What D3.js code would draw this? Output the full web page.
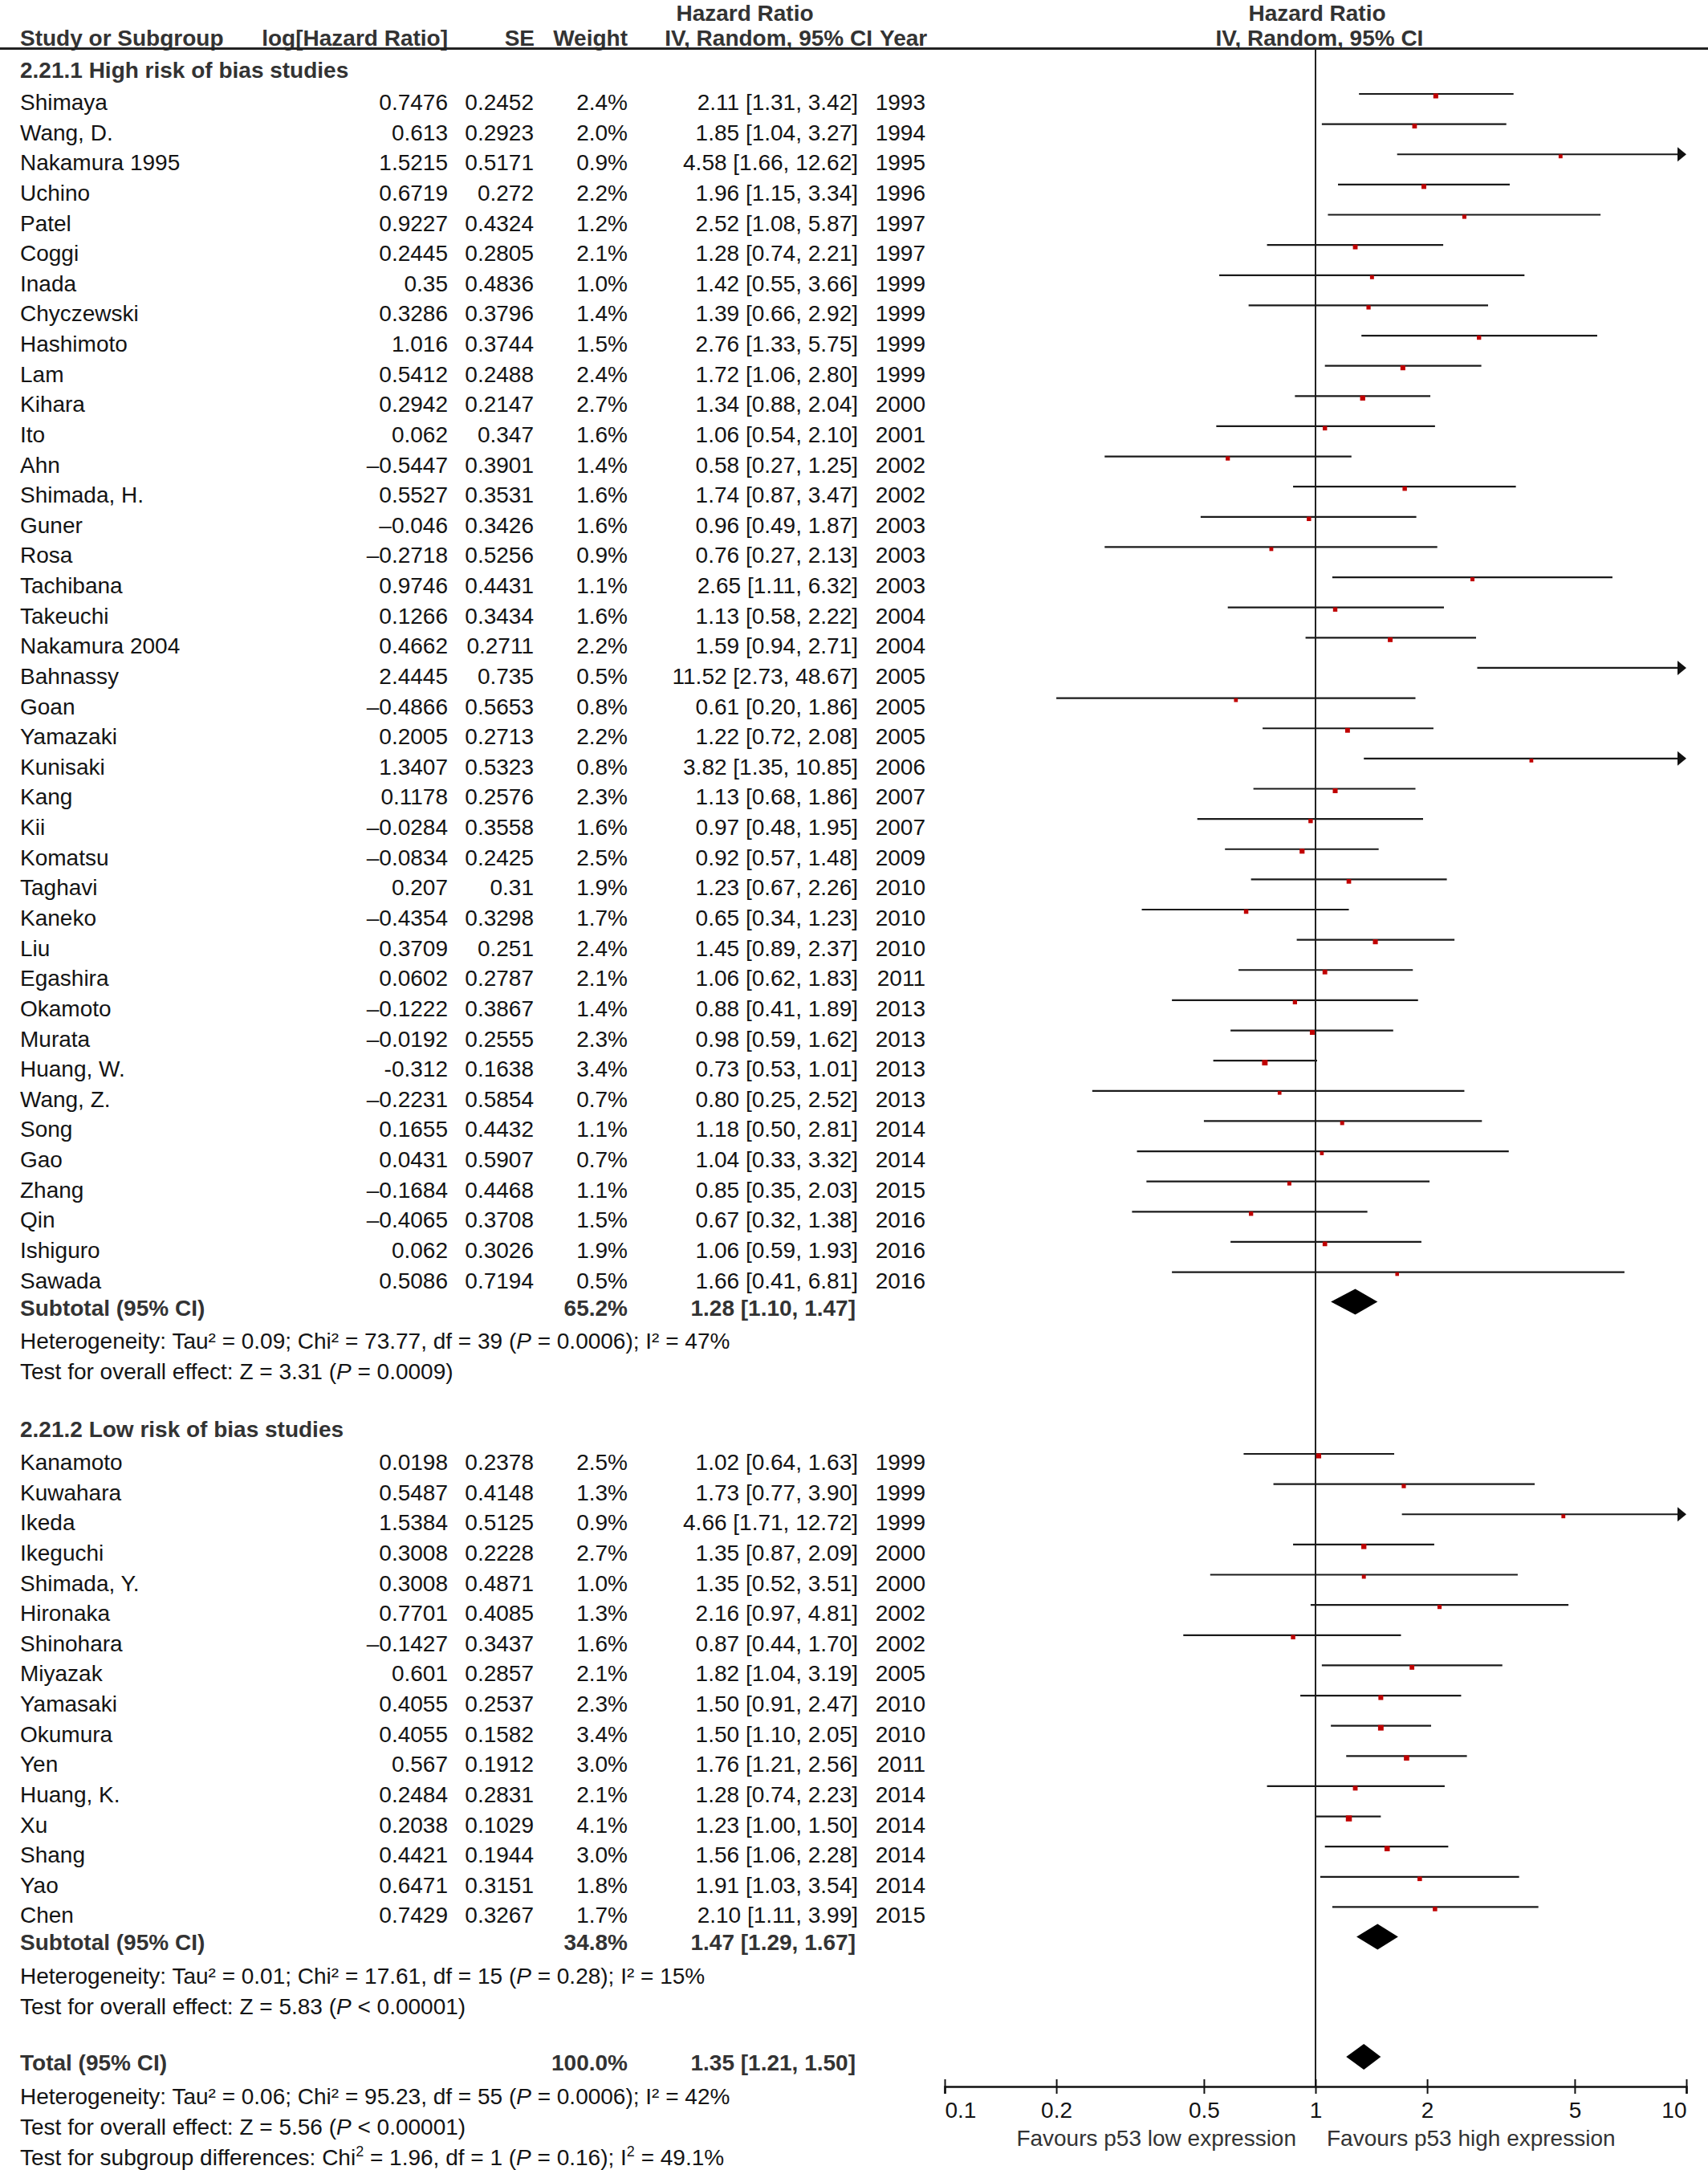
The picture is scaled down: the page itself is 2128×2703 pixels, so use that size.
<!DOCTYPE html>
<html><head><meta charset="utf-8">
<script src="https://cdn.jsdelivr.net/npm/d3@7"></script>
<style>
html,body{margin:0;padding:0;background:#fff;}
svg text{font-family:"Liberation Sans",Arial,Helvetica,sans-serif;}
</style>
</head><body>
<svg id="chart" width="2128" height="2703"></svg>
<script>
// ---------- DATA ----------
const names1 = ["Shimaya","Wang, D.","Nakamura 1995","Uchino","Patel","Coggi","Inada","Chyczewski","Hashimoto","Lam","Kihara","Ito","Ahn","Shimada, H.","Guner","Rosa","Tachibana","Takeuchi","Nakamura 2004","Bahnassy","Goan","Yamazaki","Kunisaki","Kang","Kii","Komatsu","Taghavi","Kaneko","Liu","Egashira","Okamoto","Murata","Huang, W.","Wang, Z.","Song","Gao","Zhang","Qin","Ishiguro","Sawada"];
const logHR1 = [0.7476,0.613,1.5215,0.6719,0.9227,0.2445,0.35,0.3286,1.016,0.5412,0.2942,0.062,-0.5447,0.5527,-0.046,-0.2718,0.9746,0.1266,0.4662,2.4445,-0.4866,0.2005,1.3407,0.1178,-0.0284,-0.0834,0.207,-0.4354,0.3709,0.0602,-0.1222,-0.0192,-0.312,-0.2231,0.1655,0.0431,-0.1684,-0.4065,0.062,0.5086];
const se1 = [0.2452,0.2923,0.5171,0.272,0.4324,0.2805,0.4836,0.3796,0.3744,0.2488,0.2147,0.347,0.3901,0.3531,0.3426,0.5256,0.4431,0.3434,0.2711,0.735,0.5653,0.2713,0.5323,0.2576,0.3558,0.2425,0.31,0.3298,0.251,0.2787,0.3867,0.2555,0.1638,0.5854,0.4432,0.5907,0.4468,0.3708,0.3026,0.7194];
const weight1 = [2.4,2.0,0.9,2.2,1.2,2.1,1.0,1.4,1.5,2.4,2.7,1.6,1.4,1.6,1.6,0.9,1.1,1.6,2.2,0.5,0.8,2.2,0.8,2.3,1.6,2.5,1.9,1.7,2.4,2.1,1.4,2.3,3.4,0.7,1.1,0.7,1.1,1.5,1.9,0.5];
const hr1 = [2.11,1.85,4.58,1.96,2.52,1.28,1.42,1.39,2.76,1.72,1.34,1.06,0.58,1.74,0.96,0.76,2.65,1.13,1.59,11.52,0.61,1.22,3.82,1.13,0.97,0.92,1.23,0.65,1.45,1.06,0.88,0.98,0.73,0.80,1.18,1.04,0.85,0.67,1.06,1.66];
const lo1 = [1.31,1.04,1.66,1.15,1.08,0.74,0.55,0.66,1.33,1.06,0.88,0.54,0.27,0.87,0.49,0.27,1.11,0.58,0.94,2.73,0.20,0.72,1.35,0.68,0.48,0.57,0.67,0.34,0.89,0.62,0.41,0.59,0.53,0.25,0.50,0.33,0.35,0.32,0.59,0.41];
const hi1 = [3.42,3.27,12.62,3.34,5.87,2.21,3.66,2.92,5.75,2.80,2.04,2.10,1.25,3.47,1.87,2.13,6.32,2.22,2.71,48.67,1.86,2.08,10.85,1.86,1.95,1.48,2.26,1.23,2.37,1.83,1.89,1.62,1.01,2.52,2.81,3.32,2.03,1.38,1.93,6.81];
const year1 = [1993,1994,1995,1996,1997,1997,1999,1999,1999,1999,2000,2001,2002,2002,2003,2003,2003,2004,2004,2005,2005,2005,2006,2007,2007,2009,2010,2010,2010,2011,2013,2013,2013,2013,2014,2014,2015,2016,2016,2016];

const names2 = ["Kanamoto","Kuwahara","Ikeda","Ikeguchi","Shimada, Y.","Hironaka","Shinohara","Miyazak","Yamasaki","Okumura","Yen","Huang, K.","Xu","Shang","Yao","Chen"];
const logHR2 = [0.0198,0.5487,1.5384,0.3008,0.3008,0.7701,-0.1427,0.601,0.4055,0.4055,0.567,0.2484,0.2038,0.4421,0.6471,0.7429];
const se2 = [0.2378,0.4148,0.5125,0.2228,0.4871,0.4085,0.3437,0.2857,0.2537,0.1582,0.1912,0.2831,0.1029,0.1944,0.3151,0.3267];
const weight2 = [2.5,1.3,0.9,2.7,1.0,1.3,1.6,2.1,2.3,3.4,3.0,2.1,4.1,3.0,1.8,1.7];
const hr2 = [1.02,1.73,4.66,1.35,1.35,2.16,0.87,1.82,1.50,1.50,1.76,1.28,1.23,1.56,1.91,2.10];
const lo2 = [0.64,0.77,1.71,0.87,0.52,0.97,0.44,1.04,0.91,1.10,1.21,0.74,1.00,1.06,1.03,1.11];
const hi2 = [1.63,3.90,12.72,2.09,3.51,4.81,1.70,3.19,2.47,2.05,2.56,2.23,1.50,2.28,3.54,3.99];
const year2 = [1999,1999,1999,2000,2000,2002,2002,2005,2010,2010,2011,2014,2014,2014,2014,2015];

const subgroupLabels = ["2.21.1 High risk of bias studies","2.21.2 Low risk of bias studies"];
const pooledLabels = ["Subtotal (95% CI)","Subtotal (95% CI)","Total (95% CI)"];
const pooledWeight = [65.2,34.8,100.0];
const pooledHR = [1.28,1.47,1.35];
const pooledLo = [1.10,1.29,1.21];
const pooledHi = [1.47,1.67,1.50];

const tickValues = [0.1,0.2,0.5,1,2,5,10];
const favourLabels = ["Favours p53 low expression","Favours p53 high expression"];

// footer texts: segments [text, style] ; style: n normal, i italic, s superscript
const het1 = [["Heterogeneity: Tau² = 0.09; Chi² = 73.77, df = 39 (","n"],["P","i"],[" = 0.0006); I² = 47%","n"]];
const eff1 = [["Test for overall effect: Z = 3.31 (","n"],["P","i"],[" = 0.0009)","n"]];
const het2 = [["Heterogeneity: Tau² = 0.01; Chi² = 17.61, df = 15 (","n"],["P","i"],[" = 0.28); I² = 15%","n"]];
const eff2 = [["Test for overall effect: Z = 5.83 (","n"],["P","i"],[" < 0.00001)","n"]];
const hetT = [["Heterogeneity: Tau² = 0.06; Chi² = 95.23, df = 55 (","n"],["P","i"],[" = 0.0006); I² = 42%","n"]];
const effT = [["Test for overall effect: Z = 5.56 (","n"],["P","i"],[" < 0.00001)","n"]];
const subDiff = [["Test for subgroup differences: Chi","n"],["2","s"],[" = 1.96, df = 1 (","n"],["P","i"],[" = 0.16); I","n"],["2","s"],[" = 49.1%","n"]];

// ---------- LAYOUT ----------
const W = 2128, H = 2703;
const FS = 28;
const pitch = 37.63;
const TXT = "#141414", BOLD = "#333";
const col = {name:25, logHR:558, se:665, weight:782, ci:1069, year:1153};

const svg = d3.select("#chart");
const x = d3.scaleLog().domain([0.1, 10]).range([1177, 2101]);
const msize = d3.scaleLinear().domain([0.5, 4.1]).range([4.5, 7.5]);

function txt(xp, yp, s, opts = {}) {
  return svg.append("text").attr("x", xp).attr("y", yp)
    .attr("font-size", opts.size || FS)
    .attr("font-weight", opts.bold ? "bold" : "normal")
    .attr("fill", opts.fill || (opts.bold ? BOLD : TXT))
    .attr("text-anchor", opts.anchor || "start")
    .text(s);
}
function rich(xp, yp, segs) {
  const t = svg.append("text").attr("x", xp).attr("y", yp).attr("font-size", FS).attr("fill", TXT);
  let raised = false;
  segs.forEach(([s, st]) => {
    const sp = t.append("tspan").text(s);
    if (st === "i") sp.attr("font-style", "italic");
    if (st === "s") { sp.attr("font-size", 18).attr("dy", -11); raised = true; }
    else if (raised) { sp.attr("dy", 11); raised = false; }
  });
}
const fmtLog = (v, name) => name === "Huang, W." ? String(v) : String(v).replace("-", "\u2013");

// ---------- HEADER ----------
txt(928, 26, "Hazard Ratio", {bold:true, anchor:"middle"});
txt(1641, 26, "Hazard Ratio", {bold:true, anchor:"middle"});
txt(col.name, 57, "Study or Subgroup", {bold:true});
txt(col.logHR, 57, "log[Hazard Ratio]", {bold:true, anchor:"end"});
txt(col.se + 1, 57, "SE", {bold:true, anchor:"end"});
txt(col.weight, 57, "Weight", {bold:true, anchor:"end"});
txt(1087, 57, "IV, Random, 95% CI", {bold:true, anchor:"end"});
txt(1096, 57, "Year", {bold:true, anchor:"start"});
txt(1644, 57, "IV, Random, 95% CI", {bold:true, anchor:"middle"});
svg.append("line").attr("x1", 0).attr("x2", W).attr("y1", 60.5).attr("y2", 60.5)
  .attr("stroke", "#222").attr("stroke-width", 3);

// null line
const axisY = 2599;
svg.append("line").attr("x1", x(1)).attr("x2", x(1)).attr("y1", 60).attr("y2", axisY)
  .attr("stroke", "#222").attr("stroke-width", 2);

// ---------- STUDY ROWS ----------
function drawGroup(names, logHR, se, weight, hr, lo, hi, year, base) {
  const [d0, d1] = x.domain();
  names.forEach((n, i) => {
    const yb = base + i * pitch;      // text baseline
    const yl = yb - 20;               // plot line
    txt(col.name, yb, n);
    txt(col.logHR, yb, fmtLog(logHR[i], n), {anchor:"end"});
    txt(col.se, yb, String(se[i]), {anchor:"end"});
    txt(col.weight, yb, weight[i].toFixed(1) + "%", {anchor:"end"});
    txt(col.ci, yb, `${hr[i].toFixed(2)} [${lo[i].toFixed(2)}, ${hi[i].toFixed(2)}]`, {anchor:"end"});
    txt(col.year, yb, String(year[i]), {anchor:"end"});
    const x0 = x(Math.max(lo[i], d0));
    const over = hi[i] > d1;
    const x1 = over ? x(d1) - 8 : x(hi[i]);
    svg.append("line").attr("x1", x0).attr("x2", x1).attr("y1", yl).attr("y2", yl)
      .attr("stroke", "#1a1a1a").attr("stroke-width", 2.2);
    if (over) {
      const tip = x(d1);
      svg.append("path").attr("d", `M${tip},${yl} L${tip - 11},${yl - 9} L${tip - 11},${yl + 9} Z`).attr("fill", "#111");
    }
    if (hr[i] >= d0 && hr[i] <= d1) {
      const s = msize(weight[i]);
      svg.append("rect").attr("x", x(hr[i]) - s / 2).attr("y", yl + 2.5 - s / 2)
        .attr("width", s).attr("height", s).attr("fill", "#c00000");
    }
  });
}
function diamond(k, yb) {
  const yc = yb - 17, h = 16;
  svg.append("path")
    .attr("d", `M${x(pooledLo[k])},${yc} L${x(pooledHR[k])},${yc - h} L${x(pooledHi[k])},${yc} L${x(pooledHR[k])},${yc + h} Z`)
    .attr("fill", "#000");
  txt(col.name, yb, pooledLabels[k], {bold:true});
  txt(col.weight, yb, pooledWeight[k].toFixed(1) + "%", {bold:true, anchor:"end"});
  txt(1066, yb, `${pooledHR[k].toFixed(2)} [${pooledLo[k].toFixed(2)}, ${pooledHi[k].toFixed(2)}]`, {bold:true, anchor:"end"});
}

// group 1
txt(col.name, 97, subgroupLabels[0], {bold:true});
const base1 = 137;
drawGroup(names1, logHR1, se1, weight1, hr1, lo1, hi1, year1, base1);
const last1 = base1 + (names1.length - 1) * pitch;
diamond(0, last1 + 34);
rich(col.name, last1 + 75, het1);
rich(col.name, last1 + 113, eff1);

// group 2
txt(col.name, 1790, subgroupLabels[1], {bold:true});
const base2 = 1831;
drawGroup(names2, logHR2, se2, weight2, hr2, lo2, hi2, year2, base2);
const last2 = base2 + (names2.length - 1) * pitch;
diamond(1, last2 + 34);
rich(col.name, last2 + 76, het2);
rich(col.name, last2 + 114, eff2);

// total
diamond(2, 2579);
rich(col.name, 2621, hetT);
rich(col.name, 2659, effT);
rich(col.name, 2697, subDiff);

// ---------- AXIS ----------
const axis = d3.axisBottom(x).tickValues(tickValues).tickFormat(d => String(d)).tickSizeOuter(0).tickSize(9);
const ag = svg.append("g").attr("transform", `translate(0,${axisY})`).call(axis);
ag.select(".domain").attr("stroke", "#111").attr("stroke-width", 2.5);
ag.selectAll(".tick line").attr("y1", -9).attr("y2", 9).attr("stroke", "#111").attr("stroke-width", 2);
ag.selectAll(".tick text").attr("font-size", FS).attr("fill", TXT)
  .attr("font-family", '"Liberation Sans",Arial,sans-serif')
  .attr("dy", null).attr("y", 39)
  .attr("text-anchor", d => d === tickValues[0] ? "start" : d === tickValues[tickValues.length - 1] ? "end" : "middle");
txt(x(1) - 24, 2673, favourLabels[0], {anchor:"end", fill:"#333"});
txt(x(1) + 14, 2673, favourLabels[1], {anchor:"start", fill:"#333"});
</script>
</body></html>
